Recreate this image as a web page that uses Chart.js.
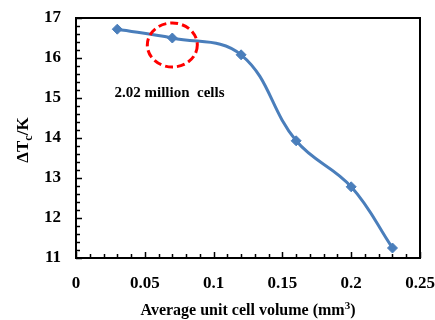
<!DOCTYPE html>
<html>
<head>
<meta charset="utf-8">
<script src="https://cdn.jsdelivr.net/npm/chart.js@4"></script>
<style>
  body { margin: 0; background: #fff; }
  #wrap { width: 435px; height: 320px; }
</style>
</head>
<body>
<div id="wrap"><canvas id="myChart" width="435" height="320"></canvas></div>
<script>
const cellVolume = [0.03, 0.07, 0.12, 0.16, 0.2, 0.23];
const deltaT = [16.72, 16.5, 16.08, 13.93, 12.78, 11.25];
const xTicks = [0, 0.05, 0.1, 0.15, 0.2, 0.25];
const yTicks = [11, 12, 13, 14, 15, 16, 17];
const note = '2.02 million  cells';
const circledPoint = 1; // index of the highlighted point

const serif = "'Liberation Serif', 'Times New Roman', serif";
const blue = 'rgb(74, 126, 187)';

const framePlugin = {
  id: 'frame',
  afterDraw(chart) {
    const c = chart.ctx;
    const a = chart.chartArea;
    const xs = chart.scales.x;
    const ys = chart.scales.y;
    c.save();
    // frame
    c.strokeStyle = '#000';
    c.lineWidth = 2;
    c.strokeRect(a.left, a.top, a.right - a.left, a.bottom - a.top);
    // inward ticks
    c.lineWidth = 1.5;
    c.beginPath();
    for (let i = 0; i <= 25; i++) {
      const px = Math.round(xs.getPixelForValue(i / 100)) + 0.5;
      const len = i % 5 === 0 ? 6 : 4;
      c.moveTo(px, a.bottom);
      c.lineTo(px, a.bottom - len);
    }
    for (let i = 0; i <= 30; i++) {
      const py = Math.round(ys.getPixelForValue(11 + i * 0.2)) + 0.5;
      const len = i % 5 === 0 ? 6 : 4;
      c.moveTo(a.left, py);
      c.lineTo(a.left + len, py);
    }
    c.stroke();

    // dashed circle around highlighted point
    const cx = xs.getPixelForValue(cellVolume[circledPoint]);
    const cy = ys.getPixelForValue(deltaT[circledPoint]) + 7;
    c.strokeStyle = '#ff0000';
    c.lineWidth = 3;
    c.setLineDash([8, 4]);
    c.beginPath();
    c.ellipse(cx, cy, 25, 22, 0, 0, Math.PI * 2);
    c.stroke();
    c.setLineDash([]);

    // annotation
    c.fillStyle = '#000';
    c.font = 'bold 15px ' + serif;
    c.textAlign = 'left';
    c.textBaseline = 'alphabetic';
    c.fillText(note, xs.getPixelForValue(0.028), ys.getPixelForValue(15.03));

    // x title
    const t1 = 'Average unit cell volume (mm';
    const t2 = ')';
    c.font = 'bold 16px ' + serif;
    const w1 = c.measureText(t1).width;
    const w2 = c.measureText(t2).width;
    c.font = 'bold 11px ' + serif;
    const w3 = c.measureText('3').width;
    const x0 = (a.left + a.right) / 2 - (w1 + w2 + w3) / 2;
    const by = 315;
    c.font = 'bold 16px ' + serif;
    c.fillText(t1, x0, by);
    c.font = 'bold 11px ' + serif;
    c.fillText('3', x0 + w1, by - 6);
    c.font = 'bold 16px ' + serif;
    c.fillText(t2, x0 + w1 + w3, by);

    // y title with subscript
    c.translate(28, (a.top + a.bottom) / 2 + 2);
    c.rotate(-Math.PI / 2);
    c.font = 'bold 17px ' + serif;
    const p1 = 'ΔT', p3 = '/K';
    const q1 = c.measureText(p1).width;
    const q3 = c.measureText(p3).width;
    c.font = 'bold 12px ' + serif;
    const q2 = c.measureText('c').width;
    const s = -(q1 + q2 + q3) / 2;
    c.font = 'bold 17px ' + serif;
    c.fillText(p1, s, 0);
    c.font = 'bold 12px ' + serif;
    c.fillText('c', s + q1, 4);
    c.font = 'bold 17px ' + serif;
    c.fillText(p3, s + q1 + q2, 0);
    c.restore();
  }
};

new Chart(document.getElementById('myChart'), {
  type: 'scatter',
  data: {
    datasets: [{
      data: cellVolume.map((v, i) => ({ x: v, y: deltaT[i] })),
      showLine: true,
      borderColor: blue,
      backgroundColor: blue,
      borderWidth: 3,
      tension: 0.4,
      pointStyle: 'rectRot',
      pointRadius: 5,
      pointBorderWidth: 1
    }]
  },
  options: {
    responsive: false,
    animation: false,
    layout: { padding: { left: 0, right: 15, top: 18, bottom: 0 } },
    plugins: { legend: { display: false }, tooltip: { enabled: false } },
    scales: {
      x: {
        type: 'linear',
        min: 0,
        max: 0.25,
        afterBuildTicks: (scale) => { scale.ticks = xTicks.map(v => ({ value: v })); },
        afterFit: (scale) => {
          scale.height = 62;
          scale.paddingLeft = 0;
          scale.paddingRight = 0;
        },
        grid: { display: false },
        border: { display: false },
        ticks: {
          color: '#000',
          padding: 7,
          maxRotation: 0,
          font: { family: serif, size: 17, weight: 'bold' },
          callback: (v) => String(v)
        }
      },
      y: {
        type: 'linear',
        min: 11,
        max: 17,
        afterBuildTicks: (scale) => { scale.ticks = yTicks.map(v => ({ value: v })); },
        afterFit: (scale) => {
          scale.width = 76;
          scale.paddingTop = 0;
          scale.paddingBottom = 0;
        },
        grid: { display: false },
        border: { display: false },
        ticks: {
          color: '#000',
          padding: 7,
          font: { family: serif, size: 17, weight: 'bold' },
          callback: (v) => String(v)
        }
      }
    }
  },
  plugins: [framePlugin]
});
</script>
</body>
</html>
